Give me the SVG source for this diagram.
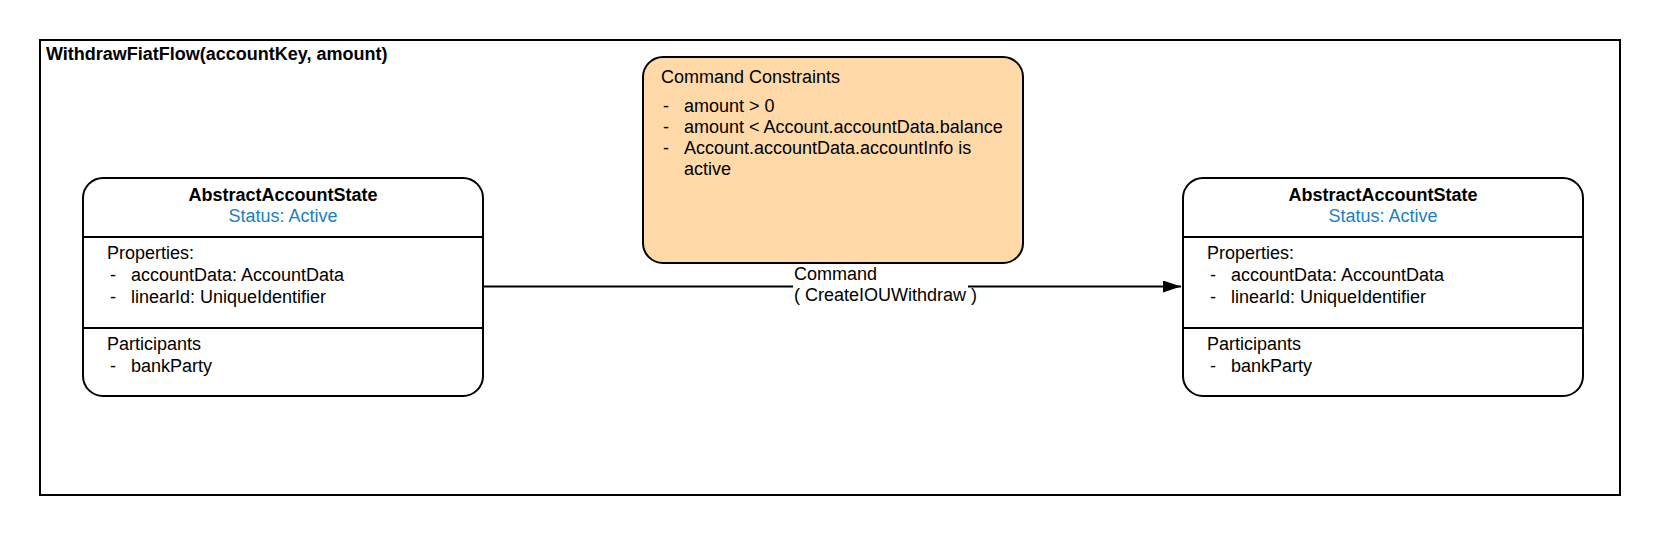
<svg xmlns="http://www.w3.org/2000/svg" width="1660" height="536" viewBox="0 0 1660 536">
<defs>
<style>
text{font-family:"Liberation Sans",Arial,sans-serif;font-size:18px;fill:#000}
.b{font-weight:bold}
.st{fill:#1a7fc1}
.box{fill:#fff;stroke:#000;stroke-width:2}
.div{stroke:#000;stroke-width:2}
</style>
<marker id="arr" markerWidth="18" markerHeight="12" refX="18" refY="6" orient="auto" markerUnits="userSpaceOnUse">
<path d="M0,0 L18,6 L0,12 Z" fill="#000"/>
</marker>
</defs>
<rect width="1660" height="536" fill="#fff"/>
<g id="frame">
<rect x="40" y="40" width="1580" height="455" fill="none" stroke="#000" stroke-width="2"/>
<text x="46" y="60" class="b">WithdrawFiatFlow(accountKey, amount)</text>
</g>
<g id="connectors">
<line x1="484" y1="286.5" x2="1181" y2="286.5" stroke="#000" stroke-width="2" marker-end="url(#arr)"/>
<rect x="793" y="266" width="175" height="40" fill="#fff"/>
<text x="794" y="280">Command</text>
<text x="794" y="301">( CreateIOUWithdraw )</text>
</g>
<g id="state-left">
<rect class="box" x="83" y="178" width="400" height="218" rx="20"/>
<line class="div" x1="83" y1="237" x2="483" y2="237"/>
<line class="div" x1="83" y1="328" x2="483" y2="328"/>
<text x="283" y="201" text-anchor="middle" class="b">AbstractAccountState</text>
<text x="283" y="222" text-anchor="middle" class="st">Status: Active</text>
<text x="107" y="259">Properties:</text>
<text x="110" y="281">-</text><text x="131" y="281">accountData: AccountData</text>
<text x="110" y="302.5">-</text><text x="131" y="302.5">linearId: UniqueIdentifier</text>
<text x="107" y="350">Participants</text>
<text x="110" y="371.5">-</text><text x="131" y="371.5">bankParty</text>
</g>
<g id="constraints">
<rect x="643" y="57" width="380" height="206" rx="20" fill="#ffdaa8" stroke="#000" stroke-width="2"/>
<text x="661" y="83">Command Constraints</text>
<text x="663" y="111.5">-</text><text x="684" y="111.5">amount &gt; 0</text>
<text x="663" y="132.5">-</text><text x="684" y="132.5">amount &lt; Account.accountData.balance</text>
<text x="663" y="154">-</text><text x="684" y="154">Account.accountData.accountInfo is</text>
<text x="684" y="175">active</text>
</g>
<g id="state-right">
<rect class="box" x="1183" y="178" width="400" height="218" rx="20"/>
<line class="div" x1="1183" y1="237" x2="1583" y2="237"/>
<line class="div" x1="1183" y1="328" x2="1583" y2="328"/>
<text x="1383" y="201" text-anchor="middle" class="b">AbstractAccountState</text>
<text x="1383" y="222" text-anchor="middle" class="st">Status: Active</text>
<text x="1207" y="259">Properties:</text>
<text x="1210" y="281">-</text><text x="1231" y="281">accountData: AccountData</text>
<text x="1210" y="302.5">-</text><text x="1231" y="302.5">linearId: UniqueIdentifier</text>
<text x="1207" y="350">Participants</text>
<text x="1210" y="371.5">-</text><text x="1231" y="371.5">bankParty</text>
</g>
</svg>
